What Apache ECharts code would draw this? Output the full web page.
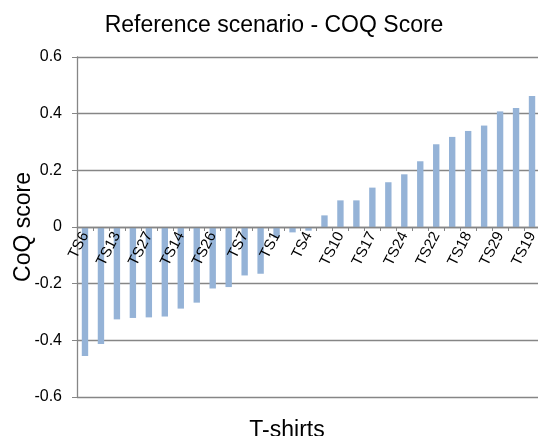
<!DOCTYPE html>
<html>
<head>
<meta charset="utf-8">
<title>COQ Score</title>
<script src="https://cdn.jsdelivr.net/npm/echarts@6/dist/echarts.min.js"></script>
<style>
  html, body { margin: 0; padding: 0; background: #fff; }
  #chart { width: 538px; height: 436px; }
</style>
</head>
<body>
<div id="chart"></div>
<script>
// T-shirts, sorted by score (only every other name is printed on the axis)
var tshirts = ['TS6', 'TS3', 'TS13', 'TS11', 'TS27', 'TS20', 'TS14', 'TS5', 'TS26', 'TS8',
  'TS7', 'TS15', 'TS1', 'TS28', 'TS4', 'TS2', 'TS10', 'TS12', 'TS17', 'TS21',
  'TS24', 'TS9', 'TS22', 'TS25', 'TS18', 'TS16', 'TS29', 'TS23', 'TS19']
var coqScore = [-0.455, -0.413, -0.326, -0.321, -0.319, -0.316, -0.288, -0.267, -0.217, -0.212,
  -0.171, -0.165, -0.038, -0.019, -0.013, 0.041, 0.094, 0.094, 0.139, 0.158,
  0.186, 0.232, 0.292, 0.318, 0.339, 0.358, 0.408, 0.420, 0.462]
var yMin = -0.6
var yMax = 0.6
var yStep = 0.2

var font = "'Liberation Sans', Arial, sans-serif"
var gray = '#868686'
var gridTop = 57
var gridBottom = 39
var plotH = 436 - gridTop - gridBottom

var chart = echarts.init(document.getElementById('chart'))
chart.setOption({
  animation: false,
  textStyle: { fontFamily: font },
  title: [
    {
      text: 'Reference scenario - COQ Score',
      left: 269,
      top: 9,
      textAlign: 'center',
      textStyle: { fontFamily: font, fontSize: 23, fontWeight: 'normal', color: '#000' }
    },
    {
      // x axis title sits at the bottom, not on the zero line
      text: 'T-shirts',
      left: 282,
      top: 414,
      textAlign: 'center',
      textStyle: { fontFamily: font, fontSize: 23, fontWeight: 'normal', color: '#000' }
    }
  ],
  grid: {
    left: 77,
    right: -2,
    top: gridTop,
    bottom: gridBottom,
    containLabel: false,
    outerBoundsMode: 'none'
  },
  xAxis: {
    type: 'category',
    data: tshirts,
    z: 5, // labels go over the bars
    // onZero is ignored here, so lift the axis to the zero line by hand
    offset: -plotH * (0 - yMin) / (yMax - yMin),
    axisLine: { onZero: false, lineStyle: { color: gray, width: 1.3 } },
    axisTick: { show: true, alignWithLabel: false, interval: 0, length: 4, lineStyle: { color: gray } },
    axisLabel: {
      interval: 1,
      rotate: 63,
      margin: 6,
      fontSize: 15,
      color: '#000',
      fontFamily: font
    }
  },
  yAxis: {
    type: 'value',
    min: yMin,
    max: yMax,
    interval: yStep,
    name: 'CoQ score',
    nameLocation: 'middle',
    nameGap: 42,
    nameMoveOverlap: false,
    nameTextStyle: { fontSize: 23, color: '#000', fontFamily: font },
    axisLine: { show: true, lineStyle: { color: gray, width: 1.3 } },
    axisTick: { show: true, length: 5, lineStyle: { color: gray } },
    axisLabel: { fontSize: 16, color: '#000', margin: 15, fontFamily: font },
    splitLine: { show: true, lineStyle: { color: gray, width: 1.3 } }
  },
  series: [
    {
      name: 'CoQ score',
      type: 'bar',
      data: coqScore,
      barWidth: '40%',
      itemStyle: { color: '#95B3D7' }
    }
  ]
})
</script>
</body>
</html>
